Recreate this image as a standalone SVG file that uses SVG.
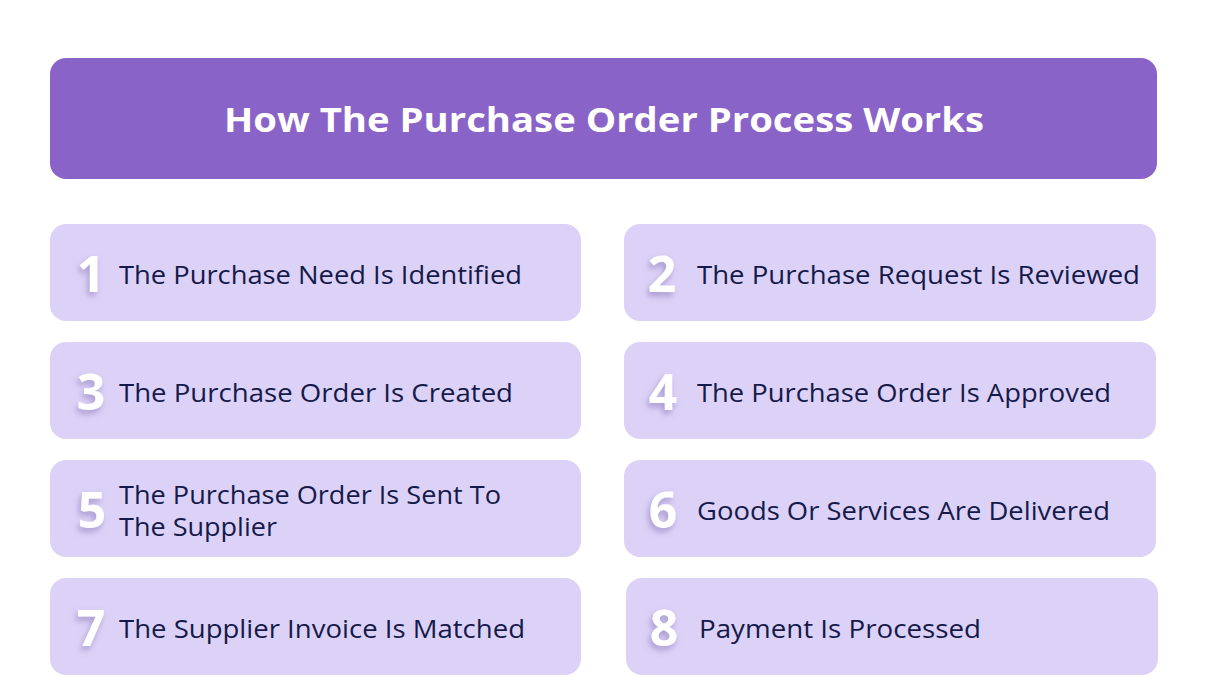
<svg xmlns="http://www.w3.org/2000/svg" width="1208" height="698" viewBox="0 0 1208 698">
<defs>
<style>
.card{fill:#dcd2f7}
.lbl{font-family:"Open Sans","Liberation Sans",sans-serif;font-size:25px;fill:#161a4b}
.num{font-family:"Open Sans","Liberation Sans",sans-serif;font-size:50px;font-weight:700;fill:#ffffff;text-anchor:middle;filter:url(#sh)}
.title{font-family:"Open Sans","Liberation Sans",sans-serif;font-size:34px;font-weight:700;fill:#ffffff;text-anchor:middle}
</style>
<filter id="sh" x="-50%" y="-50%" width="200%" height="200%">
<feDropShadow dx="-2" dy="4" stdDeviation="3" flood-color="#7d6aae" flood-opacity="0.55"/>
</filter>
</defs>
<rect width="1208" height="698" fill="#ffffff"/>
<g id="header">
<rect x="50" y="58" width="1107" height="121" rx="16" fill="#8a63c8"/>
<text class="title" x="604" y="132" textLength="760" lengthAdjust="spacingAndGlyphs">How The Purchase Order Process Works</text>
</g>
<g id="step1">
<rect class="card" x="50" y="224" width="531" height="97" rx="16"/>
<text class="num" x="91" y="292">1</text>
<text class="lbl" x="119" y="284" textLength="403" lengthAdjust="spacingAndGlyphs">The Purchase Need Is Identified</text>
</g>
<g id="step2">
<rect class="card" x="624" y="224" width="532" height="97" rx="16"/>
<text class="num" x="662" y="292">2</text>
<text class="lbl" x="697" y="284" textLength="443" lengthAdjust="spacingAndGlyphs">The Purchase Request Is Reviewed</text>
</g>
<g id="step3">
<rect class="card" x="50" y="342" width="531" height="97" rx="16"/>
<text class="num" x="91" y="410">3</text>
<text class="lbl" x="119" y="402" textLength="394" lengthAdjust="spacingAndGlyphs">The Purchase Order Is Created</text>
</g>
<g id="step4">
<rect class="card" x="624" y="342" width="532" height="97" rx="16"/>
<text class="num" x="663" y="410">4</text>
<text class="lbl" x="697" y="402" textLength="414" lengthAdjust="spacingAndGlyphs">The Purchase Order Is Approved</text>
</g>
<g id="step5">
<rect class="card" x="50" y="460" width="531" height="97" rx="16"/>
<text class="num" x="92" y="528">5</text>
<text class="lbl" x="119" y="504" textLength="382" lengthAdjust="spacingAndGlyphs">The Purchase Order Is Sent To</text>
<text class="lbl" x="119" y="536" textLength="158" lengthAdjust="spacingAndGlyphs">The Supplier</text>
</g>
<g id="step6">
<rect class="card" x="624" y="460" width="532" height="97" rx="16"/>
<text class="num" x="663" y="528">6</text>
<text class="lbl" x="697" y="520" textLength="413" lengthAdjust="spacingAndGlyphs">Goods Or Services Are Delivered</text>
</g>
<g id="step7">
<rect class="card" x="50" y="578" width="531" height="97" rx="16"/>
<text class="num" x="91" y="646">7</text>
<text class="lbl" x="119" y="638" textLength="406" lengthAdjust="spacingAndGlyphs">The Supplier Invoice Is Matched</text>
</g>
<g id="step8">
<rect class="card" x="626" y="578" width="532" height="97" rx="16"/>
<text class="num" x="664" y="646">8</text>
<text class="lbl" x="699" y="638" textLength="282" lengthAdjust="spacingAndGlyphs">Payment Is Processed</text>
</g>
<g id="connectors"/>
</svg>
